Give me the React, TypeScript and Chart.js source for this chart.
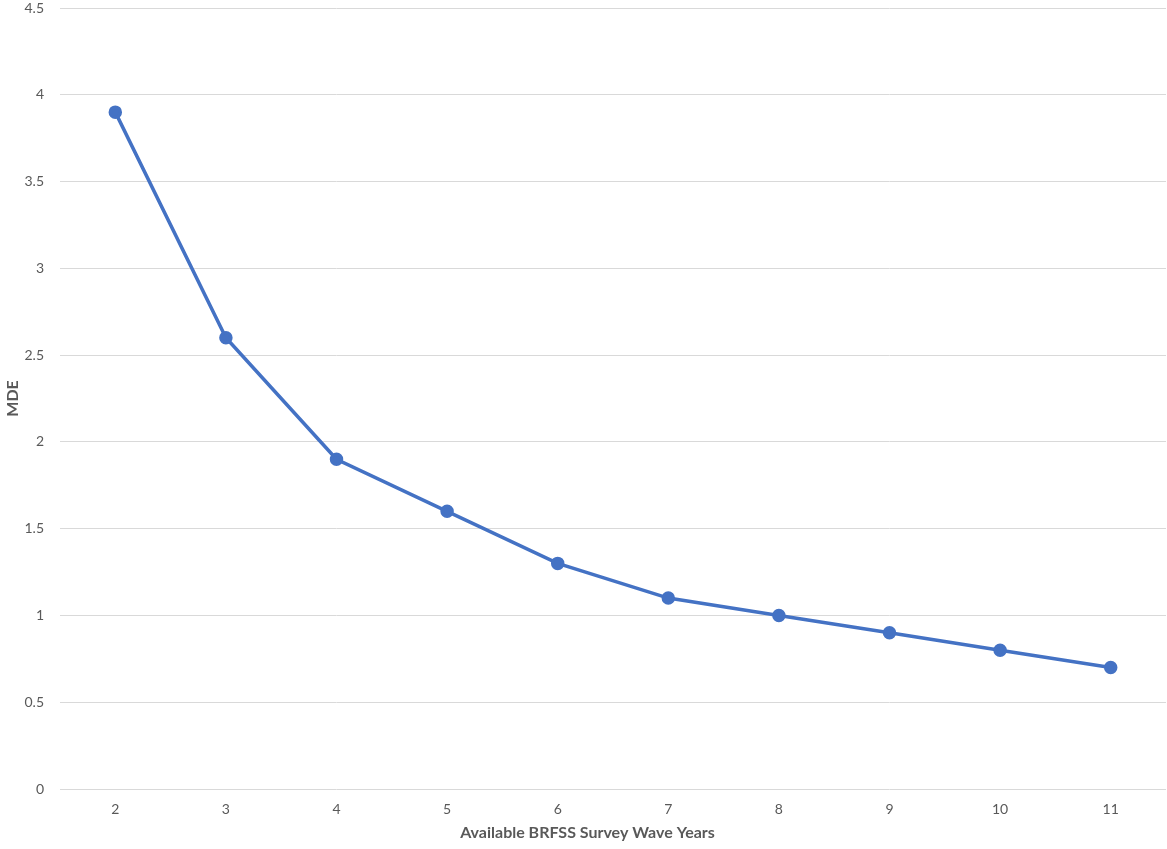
import React, { useEffect, useRef } from "react";
import { Chart, registerables } from "chart.js";

Chart.register(...registerables);

const categories: string[] = ["2", "3", "4", "5", "6", "7", "8", "9", "10", "11"];
const mdeValues: number[] = [3.9, 2.6, 1.9, 1.6, 1.3, 1.1, 1.0, 0.9, 0.8, 0.7];
const yTitle = "MDE";
const xTitle = "Available BRFSS Survey Wave Years";

const FONT = "Lato, 'Open Sans', sans-serif";
const TEXT = "#595959";
const LINE = "#4472C4";

const xTitlePlugin = {
  id: "xTitleCentered",
  afterDraw(chart: any) {
    const ctx = chart.ctx;
    ctx.save();
    ctx.font = `bold 16px ${FONT}`;
    ctx.fillStyle = TEXT;
    ctx.textAlign = "center";
    ctx.textBaseline = "middle";
    ctx.fillText(xTitle, chart.width / 2 + 4, 833);
    ctx.restore();
  },
};

export default function App() {
  const ref = useRef<HTMLCanvasElement | null>(null);
  useEffect(() => {
    if (!ref.current) return;
    const chart = new Chart(ref.current, {
      type: "line",
      data: {
        labels: categories,
        datasets: [
          {
            label: yTitle,
            data: mdeValues,
            borderColor: LINE,
            backgroundColor: LINE,
            borderWidth: 3.5,
            pointRadius: 5,
            pointHoverRadius: 5,
            pointBackgroundColor: LINE,
            pointBorderColor: LINE,
            tension: 0,
          },
        ],
      },
      plugins: [xTitlePlugin],
      options: {
        responsive: false,
        animation: false,
        layout: { autoPadding: false, padding: { top: 8, right: 1, left: 0, bottom: 0 } },
        plugins: { legend: { display: false }, tooltip: { enabled: false } },
        scales: {
          x: {
            type: "category",
            offset: true,
            grid: { display: false, drawTicks: false },
            border: { display: false },
            ticks: { color: TEXT, font: { family: FONT, size: 14 }, padding: 12, maxRotation: 0 },
            title: { display: false, text: xTitle },
            afterFit: (s: any) => {
              s.height = 60;
              s.paddingLeft = 0;
              s.paddingRight = 0;
            },
          },
          y: {
            min: 0,
            max: 4.5,
            ticks: {
              stepSize: 0.5,
              color: TEXT,
              font: { family: FONT, size: 14 },
              padding: 16,
              callback: (v: any) => String(Number(v)),
            },
            grid: { color: "#d9d9d9", lineWidth: 1, drawTicks: false },
            border: { display: false },
            title: {
              display: true,
              text: yTitle,
              color: TEXT,
              font: { family: FONT, size: 16, weight: "bold" },
              padding: { top: 3, bottom: 0 },
            },
            afterFit: (s: any) => {
              s.width = 60;
              s.paddingTop = 0;
              s.paddingBottom = 0;
            },
          },
        },
      },
    });
    return () => chart.destroy();
  }, []);
  return (
    <div style={{ position: "fixed", left: 0, top: 0, width: 1167, height: 849, background: "#fff" }}>
      <canvas ref={ref} width={1167} height={849} style={{ display: "block" }} />
    </div>
  );
}
